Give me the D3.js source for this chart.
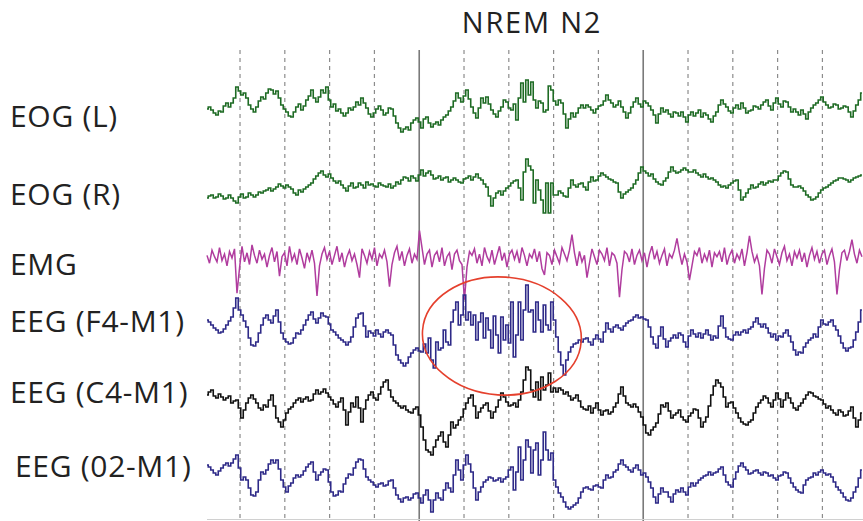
<!DOCTYPE html>
<html>
<head>
<meta charset="utf-8">
<script src="https://cdn.jsdelivr.net/npm/d3@7/dist/d3.min.js"></script>
<style>
  body { margin: 0; background: #fff; }
  svg { display: block; }
  text { font-family: "Open Sans", "Noto Sans", sans-serif; fill: #222; }
</style>
</head>
<body>
<svg id="chart" width="863" height="521"></svg>
<script>
// ---- Polysomnography epoch: channel names, stage, time grid ----
const channels = ["EOG (L)", "EOG (R)", "EMG", "EEG (F4-M1)", "EEG (C4-M1)", "EEG (02-M1)"];
const stageLabel = "NREM N2";
const secondTicks = [1, 2, 3, 4, 5, 6, 7, 8, 9, 10, 11, 12, 13, 14];
const majorEvery = 5;                  // solid line every 5 s
const epochStart = 0.263;              // s, first sample
const epochEnd = 14.906;               // s, right edge of the page
const sampleStep = 0.0558;             // s between samples

// ---- Signals (µV, positive up), one sample per step ----
const eogL = [1,3,0,-3,-5,-1,-2,4,7,3, 7,12,23,19,15,17,12,5,1,-2,
  3,9,13,11,17,21,20,16,19,12, 5,1,-2,-6,-7,-2,3,6,0,4,
  10,14,20,12,8,13,20,17,23,10, 3,6,-1,1,-3,-6,-3,2,0,3,
  8,5,12,7,2,-4,-7,-3,1,4, 0,-5,-3,2,1,-6,-13,-18,-22,-19,
  -17,-20,-13,-10,-8,-12,-18,-9,-7,-13, -17,-14,-12,-15,-10,-7,-5,-1,3,9,
  17,12,8,14,20,11,3,-3,-8,2, 12,7,13,6,0,-4,-7,-1,3,10,
  8,2,0,6,-10,12,27,8,30,15, 28,10,2,9,7,-2,0,24,20,9,
  5,10,7,-4,-18,-9,-3,-7,-3,2, 5,2,5,3,0,-3,1,4,5,9,
  15,10,7,3,5,9,3,-2,-8,-3, 3,8,12,6,3,9,7,4,0,-5,
  -13,-4,2,-2,0,-4,-7,-2,-3,-6, -2,-7,-12,-5,-2,-6,-3,0,-7,-3,
  -5,-9,-12,-6,-2,5,10,6,3,-1, -3,2,5,1,7,2,-3,-1,0,4,
  3,1,5,8,10,4,0,7,12,6, 3,9,8,3,-2,1,-2,-5,0,-4,
  -9,-2,2,5,7,10,13,8,5,2, 3,6,5,1,2,4,3,-2,-7,-1,
  5,10,17];

const eogR = [-8,-6,-5,-8,-7,-4,-6,-9,-8,-5, -8,-11,-13,-7,-4,-8,-7,-3,-5,-7,
  -5,-2,-3,-1,0,2,-1,1,3,6, 4,2,5,3,1,-3,-5,0,-2,1,
  3,5,7,11,14,17,19,15,13,16, 12,9,7,9,5,2,-1,4,7,2,
  3,7,5,2,8,5,6,4,3,7, 5,4,3,6,2,4,8,6,10,13,
  12,9,14,12,9,15,20,14,17,19, 15,11,12,14,10,12,13,8,10,12,
  10,8,7,11,12,14,10,13,16,12, 10,6,3,-6,-16,-8,-3,-1,-5,-1,
  2,4,7,9,10,2,-10,18,31,24, 20,-13,10,0,-10,-23,7,-23,7,-5,
  -5,-1,-3,-6,-7,2,10,5,3,6, 7,3,0,8,13,9,10,14,17,15,
  13,11,10,8,7,-2,-8,-4,-2,0, 2,6,10,17,23,19,17,14,16,11,
  8,6,5,9,12,18,23,19,17,18, 20,22,20,18,18,20,17,15,13,16,
  13,11,12,10,8,5,3,4,2,5, 7,9,10,0,-10,-7,-3,1,5,2,
  3,6,8,5,7,9,8,10,10,14, 17,19,18,11,5,3,3,4,2,-1,
  -5,-7,-10,-9,-7,-3,0,2,3,5, 7,9,10,12,12,11,10,8,10,12,
  13,14,15];

const emg = [2,-4,6,1,-3,8,-2,3,-6,5, 0,7,-27,-8,9,-3,4,-5,10,2,
  -4,6,-1,3,-7,2,8,-3,5,-14, 1,4,-6,9,-2,3,-5,7,0,-8,
  4,-2,6,-4,-29,-6,3,8,-1,5, -5,2,9,-3,4,-7,1,6,-2,3,
  -5,-15,7,2,-4,5,-1,8,-6,3, 0,6,-3,-22,-5,4,9,-2,5,-6,
  2,7,-4,3,-1,21,8,-5,3,6, -7,2,5,-3,8,-6,1,4,-9,3,
  6,-2,-5,-32,-7,5,2,7,-4,3, -6,8,1,-3,6,-5,2,9,-2,4,
  -7,3,6,-1,5,-4,8,2,-6,3, 0,7,-3,5,-8,-13,4,2,-5,6,
  1,-4,8,3,-2,6,18,4,-6,5, -3,2,-15,-4,7,1,-5,6,3,-2,
  8,-6,4,2,-4,-30,-9,5,3,-3, 7,-5,2,6,-2,4,-7,3,9,-1,
  5,-4,2,7,-6,3,0,6,15,4, -5,3,-3,-17,-6,5,2,8,-4,3,
  -2,6,-7,4,1,5,-3,8,-5,2, 6,-4,3,-1,7,-6,4,17,5,-3,
  2,-6,-28,-8,6,3,-4,7,1,-5, 4,9,-2,3,-6,5,0,6,-3,4,
  -7,2,8,-1,5,-4,3,6,-5,2, 7,-3,-28,-9,4,6,-2,5,14,3,
  -4,6,1];

const eegF4 = [10,8,5,2,0,-3,-2,1,5,9, 13,22,32,20,15,9,3,-8,-15,-16,
  -12,-3,5,12,15,10,7,14,20,8, -3,-9,-12,-14,-13,-8,-3,-4,0,5,
  10,15,18,11,7,12,17,14,13,6, 0,-2,-5,-8,-10,-12,-15,-12,-7,3,
  12,16,17,4,-7,-1,-3,-6,0,-4, -7,-2,0,-3,-5,-15,-25,-30,-33,-36,
  -33,-27,-23,-20,-18,-21,-22,-14,-23,-8, -30,-38,-12,-20,-18,0,-12,-15,8,20,
  28,5,15,35,10,18,5,15,-10,8, 17,-8,12,0,-18,14,-5,-23,13,-10,
  5,-13,28,-27,-5,28,-10,20,45,18, 20,-2,28,10,-2,25,5,0,28,10,
  -7,-22,-35,-45,-30,-22,-17,-14,-13,-10, -12,-9,-8,-12,-15,-9,-5,-9,-12,-2,
  7,1,-2,3,5,2,0,4,7,9, 10,13,15,12,13,11,10,3,-7,-14,
  -18,-6,3,-9,-17,-11,-8,-5,-8,-3, -5,-12,-17,-6,0,-4,-7,-3,-8,-4,
  0,-5,-10,-6,-8,4,14,2,-7,-9, -10,-5,-2,-5,-2,0,-3,1,3,8,
  12,6,3,6,2,-3,-7,-4,-10,-6, -7,-3,0,-6,-12,-20,-25,-22,-23,-17,
  -13,-10,-8,-4,-7,3,10,6,5,8, 10,4,0,-6,-13,-18,-21,-18,-17,-10,
  -2,8,20];

const eegC4 = [5,8,10,4,2,6,3,0,2,4, -3,-1,0,-8,-18,-10,-3,2,5,1,
  -3,-8,-10,-5,-7,0,5,-6,-18,-22, -27,-20,-13,-9,-7,-3,0,2,-2,1,
  3,-1,0,6,10,6,8,11,7,3, 0,-4,-7,-2,2,-10,-25,-12,-3,-7,
  3,-8,-22,-9,0,5,8,2,0,6, 13,18,20,10,3,-1,-3,-6,-8,-6,
  -10,-12,-13,-9,-7,-15,-27,-40,-50,-52, -55,-47,-40,-36,-32,-42,-47,-35,-22,-28,
  -25,-20,-17,-9,-3,2,5,-6,-18,-12, -8,-5,-3,-11,-18,-12,-7,0,7,3,
  -2,-6,-5,-3,-7,0,8,20,33,30, 10,3,18,0,23,10,15,27,8,12,
  8,12,10,6,8,4,0,2,5,-1, -7,-9,-10,-6,-13,-8,-3,-10,-15,-11,
  -10,-14,-12,-7,-3,6,13,4,-3,-5, -7,-4,-7,-12,-17,-25,-33,-35,-30,-27,
  -23,-14,-5,-7,-3,-11,-18,-15,-13,-10, -17,-20,-22,-16,-13,-9,-10,-18,-27,-22,
  -17,-6,5,14,20,17,13,3,-7,-3, -2,-8,-13,-18,-22,-24,-25,-22,-20,-13,
  -7,-3,0,4,2,-3,-7,0,7,1, -7,0,7,2,-3,-8,-10,-6,-3,1,
  5,8,7,4,3,1,0,-4,-8,-6, -10,-13,-15,-10,-12,-16,-15,-11,-7,-18,
  -27,-20,-13];

const eegO2 = [5,3,0,-3,-5,-1,2,5,7,4, 7,11,15,2,-10,-7,-10,-18,-25,-26,
  -22,-10,-2,-4,0,6,10,7,10,1, -10,-17,-22,-16,-13,-8,-5,-7,-5,-1,
  3,6,8,-2,-10,-5,-2,1,0,-12, -22,-26,-25,-21,-22,-14,-8,-4,-5,2,
  8,11,10,1,-7,-10,-12,-15,-17,-14, -13,-16,-15,-11,-10,-18,-25,-29,-32,-28,
  -27,-30,-28,-24,-23,-28,-33,-25,-20,-30, -42,-30,-23,-28,-30,-20,-13,-18,-22,-5,
  10,0,-10,5,15,6,-2,-18,-30,-22, -17,-12,-10,-7,-8,-11,-10,-8,-12,-9,
  -7,0,3,-20,-2,23,-10,10,30,23, -3,20,27,-5,10,38,20,10,17,-10,
  -17,-23,-27,-32,-37,-39,-37,-35,-33,-28, -22,-18,-17,-19,-20,-16,-15,-17,-18,-10,
  -5,-8,-7,-2,0,6,10,5,3,0, -2,2,5,0,-5,-3,-7,-12,-18,-27,
  -33,-24,-18,-22,-22,-27,-32,-24,-20,-22, -18,-22,-25,-17,-13,-16,-13,-10,-8,-6,
  -5,-2,-5,-3,-2,1,3,-5,-12,-15, -17,-9,-2,4,7,3,0,-4,-3,-1,
  0,-3,-5,-2,-3,-6,-5,-8,-10,-6, -5,-2,-3,-8,-13,-17,-20,-22,-23,-15,
  -10,-8,-7,-3,-5,-2,0,-3,-5,-4, -7,-12,-17,-20,-23,-27,-30,-31,-28,-22,
  -17,-8,0];

// Sleep spindle highlighted on F4-M1: time window (s) and amplitude span (µV)
const spindleWindow = [5.07, 8.62];
const spindleSpan = [-65, 53];

// ---- Layout ----
const svg = d3.select("#chart");
const H = 521;
const plotLeft = 207, plotRight = 863, gridTop = 50, gridBottom = 519.5;
const rowCenters = [110, 190, 258, 330, 400, 470];
const rowGain = [60, 60, 46, 60, 60, 60];          // µV shown over ±60 px per row
const labelBaselines = [127, 205, 275, 332, 403, 477];
const labelX = [10, 10, 10, 10, 10, 15];
const colors = ["#1e6b24", "#1e6b24", "#b03c9e", "#2e2a88", "#111111", "#2e2a88"];
const signals = [eogL, eogR, emg, eegF4, eegC4, eegO2];

const x = d3.scaleLinear().domain([epochStart, epochEnd]).range([plotLeft, plotRight]);
const yFor = c => d3.scaleLinear()
  .domain([-rowGain[c], rowGain[c]])
  .range([rowCenters[c] + 60, rowCenters[c] - 60]);

// Title
svg.append("text")
  .attr("x", 532).attr("y", 33)
  .attr("text-anchor", "middle")
  .attr("font-size", 29)
  .attr("letter-spacing", 1.8)
  .text(stageLabel);

// Second grid lines
svg.append("g").selectAll("line")
  .data(secondTicks)
  .join("line")
  .attr("x1", d => x(d)).attr("x2", d => x(d))
  .attr("y1", gridTop)
  .attr("y2", d => d % majorEvery === 0 ? H : gridBottom)
  .attr("stroke", d => d % majorEvery === 0 ? "#7a7a7a" : "#8c8c8c")
  .attr("stroke-width", d => d % majorEvery === 0 ? 1.6 : 1.2)
  .attr("stroke-dasharray", d => d % majorEvery === 0 ? null : "4,4");

// Baseline at the bottom of the page
svg.append("line")
  .attr("x1", plotLeft).attr("x2", plotRight)
  .attr("y1", gridBottom).attr("y2", gridBottom)
  .attr("stroke", "#d0d0d0").attr("stroke-width", 1);

// Channel labels
svg.append("g").selectAll("text")
  .data(channels)
  .join("text")
  .attr("x", (d, i) => labelX[i])
  .attr("y", (d, i) => labelBaselines[i])
  .attr("font-size", 30)
  .attr("letter-spacing", 0.7)
  .text(d => d);

// Traces: EMG drawn point-to-point, the slower channels sample-and-hold
signals.forEach((vals, c) => {
  const y = yFor(c);
  const line = d3.line()
    .x((d, i) => x(epochStart + i * sampleStep))
    .y(d => y(d))
    .curve(c === 2 ? d3.curveLinear : d3.curveStep);
  svg.append("path")
    .datum(vals)
    .attr("fill", "none")
    .attr("stroke", colors[c])
    .attr("stroke-width", c === 2 ? 1.5 : 1.6)
    .attr("d", line);
});

// Spindle annotation
const yF4 = yFor(3);
const cx = x((spindleWindow[0] + spindleWindow[1]) / 2);
const cy = yF4((spindleSpan[0] + spindleSpan[1]) / 2);
svg.append("ellipse")
  .attr("cx", cx).attr("cy", cy)
  .attr("rx", (x(spindleWindow[1]) - x(spindleWindow[0])) / 2)
  .attr("ry", (yF4(spindleSpan[0]) - yF4(spindleSpan[1])) / 2)
  .attr("transform", `rotate(4 ${cx} ${cy})`)
  .attr("fill", "none")
  .attr("stroke", "#e5402d")
  .attr("stroke-width", 1.6);
</script>
</body>
</html>
